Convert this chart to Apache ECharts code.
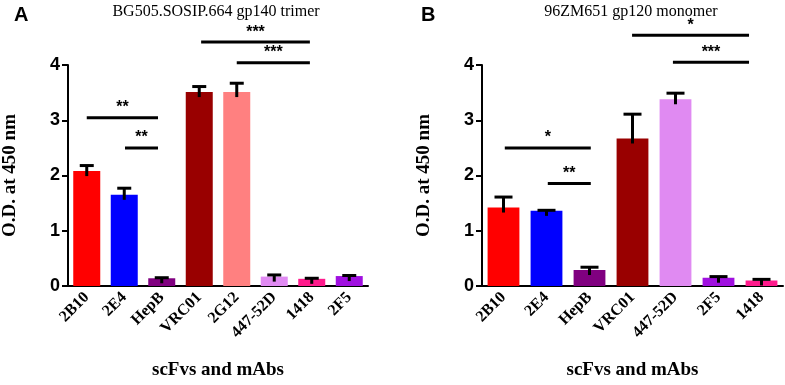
<!DOCTYPE html>
<html>
<head>
<meta charset="utf-8">
<script src="https://cdn.jsdelivr.net/npm/echarts@6/dist/echarts.min.js"></script>
<style>
  html, body { margin: 0; padding: 0; background: #fff; }
  #chart { width: 785px; height: 385px; }
</style>
</head>
<body>
<div id="chart"></div>
<script>
// panel A - BG505 trimer
var catsA = ['2B10', '2E4', 'HepB', 'VRC01', '2G12', '447-52D', '1418', '2F5'];
var valsA = [2.08, 1.65, 0.14, 3.51, 3.51, 0.17, 0.13, 0.18];
var errA = [0.10, 0.12, 0.01, 0.10, 0.16, 0.03, 0.01, 0.01];
var colorsA = ['#ff0000', '#0000ff', '#800080', '#990000', '#ff8080', '#e08af2', '#ff1a8c', '#a010e0'];
// [from, to, height, stars]
var sigA = [[0, 1.9, 3.08, '**'], [1.02, 1.9, 2.55, '**'], [3.05, 5.95, 4.4, '***'], [4.0, 5.95, 4.04, '***']];

// panel B - 96ZM651 monomer
var catsB = ['2B10', '2E4', 'HepB', 'VRC01', '447-52D', '2F5', '1418'];
var valsB = [1.42, 1.36, 0.29, 2.67, 3.38, 0.15, 0.10];
var errB = [0.19, 0.01, 0.05, 0.44, 0.11, 0.02, 0.02];
var colorsB = ['#ff0000', '#0000ff', '#800080', '#990000', '#e08af2', '#a010e0', '#ff1a8c'];
var sigB = [[0.03, 2.03, 2.55, '*'], [1.03, 2.03, 1.93, '**'], [2.99, 5.71, 4.52, '*'], [3.94, 5.71, 4.05, '***']];

var serif = 'Liberation Serif';
var sans = 'Liberation Sans';

var chart = echarts.init(document.getElementById('chart'));

function barSeries(vals, colors, axisIdx, width) {
  return {
    type: 'bar',
    xAxisIndex: axisIdx, yAxisIndex: axisIdx,
    barWidth: width,
    data: vals.map(function (v, i) {
      return { value: v, itemStyle: { color: colors[i] } };
    }),
    z: 2
  };
}

function errSeries(vals, errs, axisIdx, capW) {
  return {
    type: 'custom',
    xAxisIndex: axisIdx, yAxisIndex: axisIdx,
    data: vals.map(function (v, i) { return [i, v, v + errs[i]]; }),
    z: 3,
    renderItem: function (params, api) {
      var base = api.coord([api.value(0), api.value(1)]);
      var top = api.coord([api.value(0), api.value(2)]);
      var st = { stroke: '#000', lineWidth: 3 };
      return {
        type: 'group',
        children: [
          { type: 'line', shape: { x1: base[0], y1: base[1] + 5, x2: top[0], y2: top[1] }, style: st },
          { type: 'line', shape: { x1: top[0] - capW / 2, y1: top[1], x2: top[0] + capW / 2, y2: top[1] }, style: st }
        ]
      };
    }
  };
}

function sigSeries(sig, axisIdx) {
  return {
    type: 'custom',
    xAxisIndex: axisIdx, yAxisIndex: axisIdx,
    data: sig,
    silent: true,
    renderItem: function (params, api) {
      var a = api.coord([api.value(0), api.value(2)]);
      var b = api.coord([api.value(1), api.value(2)]);
      return {
        type: 'group',
        children: [
          { type: 'line', shape: { x1: a[0], y1: a[1], x2: b[0], y2: a[1] }, style: { stroke: '#000', lineWidth: 3 } },
          { type: 'text', x: (a[0] + b[0]) / 2, y: a[1] - 2,
            style: { text: sig[params.dataIndex][3], fill: '#000', fontFamily: sans, fontWeight: 'bold', fontSize: 16, align: 'center', verticalAlign: 'bottom' } }
        ]
      };
    }
  };
}

function mainX(cats, gi) {
  return {
    type: 'category', gridIndex: gi, data: cats,
    name: 'scFvs and mAbs', nameLocation: 'middle', nameGap: 75,
    nameTextStyle: { fontFamily: serif, fontWeight: 'bold', fontSize: 19, color: '#000' },
    axisLine: { lineStyle: { color: '#000', width: 2 } },
    axisTick: { alignWithLabel: true, length: 7, lineStyle: { color: '#000', width: 2 } },
    axisLabel: { rotate: 45, margin: 9, interval: 0, fontFamily: serif, fontWeight: 'bold', fontSize: 16, color: '#000' }
  };
}

function mainY(gi) {
  return {
    type: 'value', gridIndex: gi, min: 0, max: 4, interval: 1,
    name: 'O.D. at 450 nm', nameLocation: 'middle', nameGap: 48,
    nameTextStyle: { fontFamily: serif, fontWeight: 'bold', fontSize: 19, color: '#000' },
    splitLine: { show: false },
    axisLine: { show: true, lineStyle: { color: '#000', width: 2 } },
    axisTick: { show: true, length: 6, lineStyle: { color: '#000', width: 2 } },
    axisLabel: { margin: 8, fontFamily: sans, fontWeight: 'bold', fontSize: 18, color: '#000' }
  };
}

function hiddenX(n, gi) {
  return { type: 'value', gridIndex: gi, min: -0.5, max: n - 0.5, show: false };
}
function hiddenY(gi) {
  return { type: 'value', gridIndex: gi, min: 0, max: 5, show: false, splitLine: { show: false } };
}

var unit = (294 - 65) / 4;
var annTop = 294 - 5 * unit;

var option = {
  animation: false,
  backgroundColor: '#fff',
  title: [
    { text: 'BG505.SOSIP.664 gp140 trimer', left: 211, top: -1, textAlign: 'center',
      textStyle: { fontFamily: serif, fontWeight: 'normal', fontSize: 16, color: '#000' } },
    { text: '96ZM651 gp120 monomer', left: 626, top: -1, textAlign: 'center',
      textStyle: { fontFamily: serif, fontWeight: 'normal', fontSize: 16, color: '#000' } },
    { text: 'A', left: 9, top: 0, textStyle: { fontFamily: sans, fontWeight: 'bold', fontSize: 20, color: '#000' } },
    { text: 'B', left: 416, top: 0, textStyle: { fontFamily: sans, fontWeight: 'bold', fontSize: 20, color: '#000' } }
  ],
  grid: [
    { left: 68, width: 300, top: 65, bottom: 91 },
    { left: 482, width: 301, top: 65, bottom: 91 },
    { left: 68, width: 300, top: annTop, bottom: 91 },
    { left: 482, width: 301, top: annTop, bottom: 91 }
  ],
  xAxis: [mainX(catsA, 0), mainX(catsB, 1), hiddenX(catsA.length, 2), hiddenX(catsB.length, 3)],
  yAxis: [mainY(0), mainY(1), hiddenY(2), hiddenY(3)],
  series: [
    barSeries(valsA, colorsA, 0, '72%'),
    barSeries(valsB, colorsB, 1, '74%'),
    errSeries(valsA, errA, 0, 14),
    errSeries(valsB, errB, 1, 18),
    sigSeries(sigA, 2),
    sigSeries(sigB, 3)
  ]
};

chart.setOption(option);
</script>
</body>
</html>
